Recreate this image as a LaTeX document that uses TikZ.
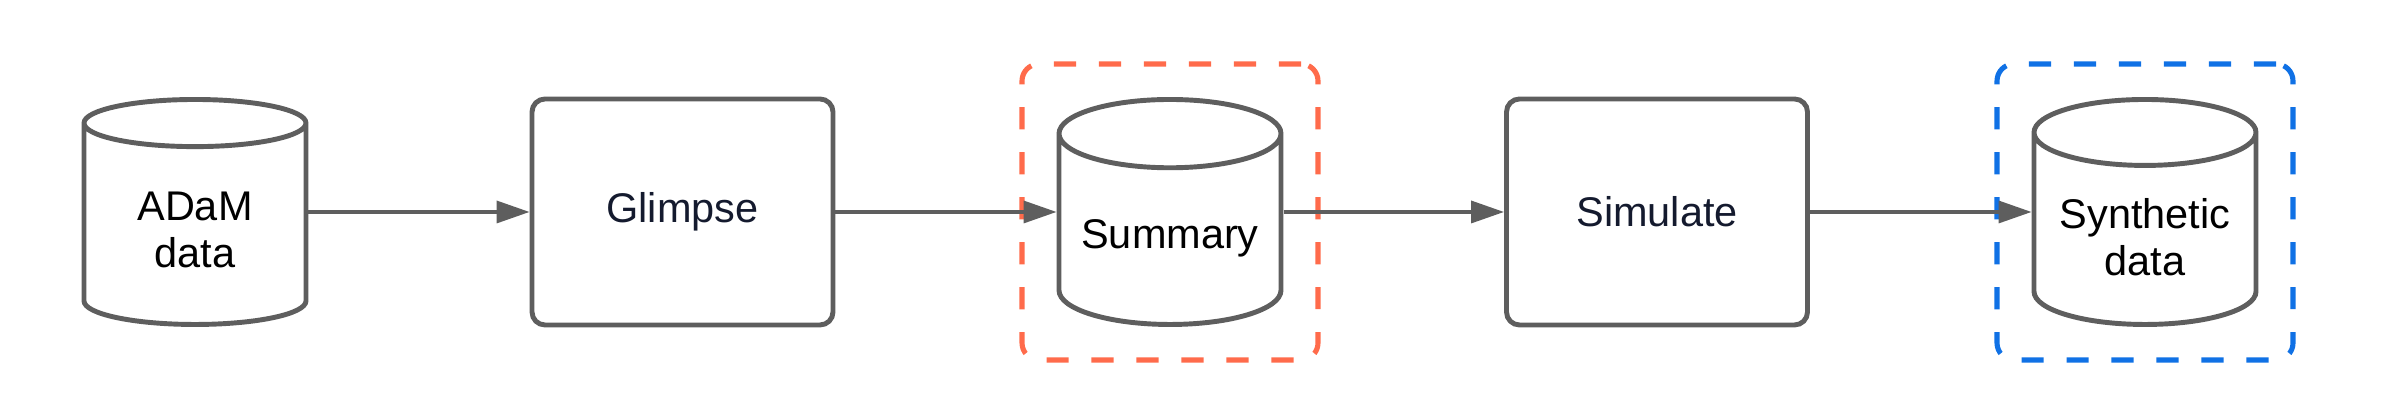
\documentclass[tikz,border=0pt]{standalone}
\usepackage{fontspec}
\setmainfont{Liberation Sans}
\usetikzlibrary{positioning,arrows.meta,shapes.geometric}
\definecolor{linegray}{HTML}{5E5E5E}
\definecolor{textnavy}{HTML}{141A2E}
\definecolor{framered}{HTML}{FF6B4B}
\definecolor{frameblue}{HTML}{1071E5}

\begin{document}
\begin{tikzpicture}[
    font=\fontsize{11.8}{13.4}\selectfont,
    store/.style={cylinder, shape border rotate=90, aspect=0.34, draw=linegray,
        line width=1.4pt, fill=white, minimum width=2.22cm, minimum height=2.25cm,
        align=center, anchor=shape center},
    process/.style={rectangle, rounded corners=0.13cm, draw=linegray, line width=1.4pt,
        minimum width=3.01cm, minimum height=2.26cm, text=textnavy},
    frame/.style={rectangle, rounded corners=0.17cm, line width=1.45pt,
        dash pattern=on 6.3pt off 6.5pt, minimum size=2.96cm},
    flow/.style={-{Triangle[length=0.33cm,width=0.22cm]}, draw=linegray, line width=1pt}
]
\useasboundingbox (0,0) rectangle (23.81,4.20);

% data stores and steps
\node[store] (adam) at (1.95,2.08) {ADaM\\data};
\node[process] (glimpse) at (6.825,2.08) {Glimpse};
\node[store] (summary) at (11.70,2.08) {Summary};
\node[process] (simulate) at (16.57,2.08) {Simulate};
\node[store] (synth) at (21.45,2.08) {Synthetic\\data};

% highlight frames
\node[frame, draw=framered] (sumframe) at (summary.shape center) {};
\node[frame, draw=frameblue] (synthframe) at (synth.shape center) {};

% flow
\draw[flow] (adam.shape center -| adam.east) -- (glimpse.west);
\draw[flow] (glimpse.east) -- (summary.shape center -| summary.west);
\draw[flow] (summary.shape center -| summary.east) -- (simulate.west);
\draw[flow] (simulate.east) -- (synth.shape center -| synth.west);
\end{tikzpicture}
\end{document}
